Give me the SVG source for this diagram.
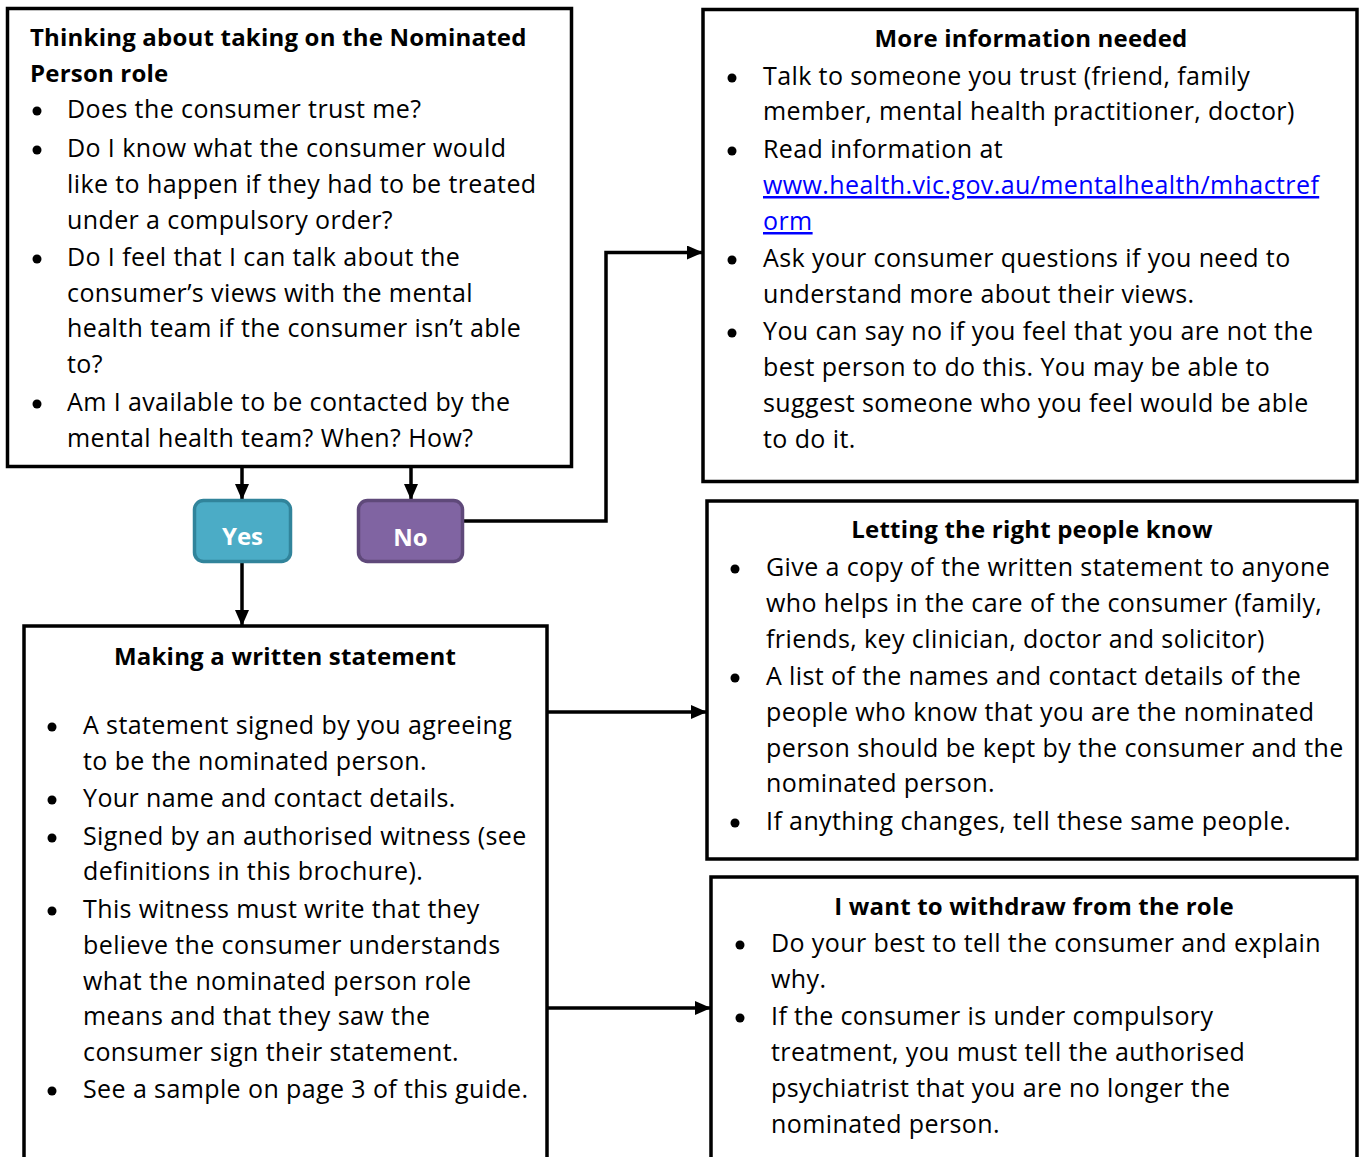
<svg xmlns="http://www.w3.org/2000/svg" width="1363" height="1157" viewBox="0 0 1363 1157">
<style>
.box{fill:#fff;stroke:#000;stroke-width:3.5}
text{font-family:"Open Sans","Liberation Sans",sans-serif;font-size:25px;letter-spacing:0.4px;fill:#000}
.h{font-weight:bold;font-size:24px;letter-spacing:0.2px}
.c{text-anchor:middle}
.link{fill:#0000ff;text-decoration:underline}
.dot{fill:#000}
.con{fill:none;stroke:#000;stroke-width:3.5}
.btn{font-weight:bold;font-size:24px;letter-spacing:0;fill:#fff;text-anchor:middle}
</style>
<defs>
<marker id="arr" markerWidth="16" markerHeight="14" refX="15" refY="7" orient="auto" markerUnits="userSpaceOnUse">
<path d="M0,0 L16,7 L0,14 Z" fill="#000"/>
</marker>
</defs>
<g id="connectors">
<line class="con" x1="242" y1="468" x2="242" y2="499" marker-end="url(#arr)"/>
<line class="con" x1="411" y1="468" x2="411" y2="499" marker-end="url(#arr)"/>
<line class="con" x1="242" y1="563" x2="242" y2="625" marker-end="url(#arr)"/>
<polyline class="con" points="464,521 606,521 606,252.5 702,252.5" marker-end="url(#arr)"/>
<line class="con" x1="547" y1="712" x2="706" y2="712" marker-end="url(#arr)"/>
<line class="con" x1="547" y1="1008" x2="710" y2="1008" marker-end="url(#arr)"/>
</g>
<g id="thinking">
<rect class="box" x="7.5" y="8.5" width="564" height="458"/>
<text class="h" x="30" y="46">Thinking about taking on the Nominated</text>
<text class="h" x="30" y="82">Person role</text>
<circle class="dot" cx="37" cy="111" r="4.5"/>
<text x="67" y="118">Does the consumer trust me?</text>
<circle class="dot" cx="37" cy="150" r="4.5"/>
<text x="67" y="157">Do I know what the consumer would</text>
<text x="67" y="193">like to happen if they had to be treated</text>
<text x="67" y="229">under a compulsory order?</text>
<circle class="dot" cx="37" cy="259" r="4.5"/>
<text x="67" y="266">Do I feel that I can talk about the</text>
<text x="67" y="302">consumer’s views with the mental</text>
<text x="67" y="337">health team if the consumer isn’t able</text>
<text x="67" y="373">to?</text>
<circle class="dot" cx="37" cy="404" r="4.5"/>
<text x="67" y="411">Am I available to be contacted by the</text>
<text x="67" y="447">mental health team? When? How?</text>
</g>
<g id="yes">
<rect x="194.5" y="500.5" width="96" height="61" rx="9" fill="#4BACC6" stroke="#31849B" stroke-width="3.5"/>
<text class="btn" x="242.5" y="545">Yes</text>
</g>
<g id="no">
<rect x="358.5" y="500.5" width="104" height="61" rx="9" fill="#8064A2" stroke="#5F497A" stroke-width="3.5"/>
<text class="btn" x="410.5" y="546">No</text>
</g>
<g id="more-info">
<rect class="box" x="703" y="9.5" width="654" height="472"/>
<text class="h c" x="1031" y="47">More information needed</text>
<circle class="dot" cx="732" cy="78" r="4.5"/>
<text x="763" y="85">Talk to someone you trust (friend, family</text>
<text x="763" y="120">member, mental health practitioner, doctor)</text>
<circle class="dot" cx="732" cy="151" r="4.5"/>
<text x="763" y="158">Read information at</text>
<text class="link" x="763" y="194">www.health.vic.gov.au/mentalhealth/mhactref</text>
<text class="link" x="763" y="230">orm</text>
<circle class="dot" cx="732" cy="260" r="4.5"/>
<text x="763" y="267">Ask your consumer questions if you need to</text>
<text x="763" y="303">understand more about their views.</text>
<circle class="dot" cx="732" cy="333" r="4.5"/>
<text x="763" y="340">You can say no if you feel that you are not the</text>
<text x="763" y="376">best person to do this. You may be able to</text>
<text x="763" y="412">suggest someone who you feel would be able</text>
<text x="763" y="448">to do it.</text>
</g>
<g id="letting-know">
<rect class="box" x="707" y="501" width="650" height="358"/>
<text class="h c" x="1032" y="538">Letting the right people know</text>
<circle class="dot" cx="735" cy="569" r="4.5"/>
<text x="766" y="576">Give a copy of the written statement to anyone</text>
<text x="766" y="612">who helps in the care of the consumer (family,</text>
<text x="766" y="648">friends, key clinician, doctor and solicitor)</text>
<circle class="dot" cx="735" cy="678" r="4.5"/>
<text x="766" y="685">A list of the names and contact details of the</text>
<text x="766" y="721">people who know that you are the nominated</text>
<text x="766" y="757">person should be kept by the consumer and the</text>
<text x="766" y="792">nominated person.</text>
<circle class="dot" cx="735" cy="823" r="4.5"/>
<text x="766" y="830">If anything changes, tell these same people.</text>
</g>
<g id="written-statement">
<rect class="box" x="24" y="626" width="523" height="560"/>
<text class="h c" x="285" y="665">Making a written statement</text>
<circle class="dot" cx="52" cy="727" r="4.5"/>
<text x="83" y="734">A statement signed by you agreeing</text>
<text x="83" y="770">to be the nominated person.</text>
<circle class="dot" cx="52" cy="800" r="4.5"/>
<text x="83" y="807">Your name and contact details.</text>
<circle class="dot" cx="52" cy="838" r="4.5"/>
<text x="83" y="845">Signed by an authorised witness (see</text>
<text x="83" y="880">definitions in this brochure).</text>
<circle class="dot" cx="52" cy="911" r="4.5"/>
<text x="83" y="918">This witness must write that they</text>
<text x="83" y="954">believe the consumer understands</text>
<text x="83" y="990">what the nominated person role</text>
<text x="83" y="1025">means and that they saw the</text>
<text x="83" y="1061">consumer sign their statement.</text>
<circle class="dot" cx="52" cy="1091" r="4.5"/>
<text x="83" y="1098">See a sample on page 3 of this guide.</text>
</g>
<g id="withdraw">
<rect class="box" x="711" y="877" width="646" height="310"/>
<text class="h c" x="1034" y="915">I want to withdraw from the role</text>
<circle class="dot" cx="740" cy="945" r="4.5"/>
<text x="771" y="952">Do your best to tell the consumer and explain</text>
<text x="771" y="988">why.</text>
<circle class="dot" cx="740" cy="1018" r="4.5"/>
<text x="771" y="1025">If the consumer is under compulsory</text>
<text x="771" y="1061">treatment, you must tell the authorised</text>
<text x="771" y="1097">psychiatrist that you are no longer the</text>
<text x="771" y="1133">nominated person.</text>
</g>
</svg>
